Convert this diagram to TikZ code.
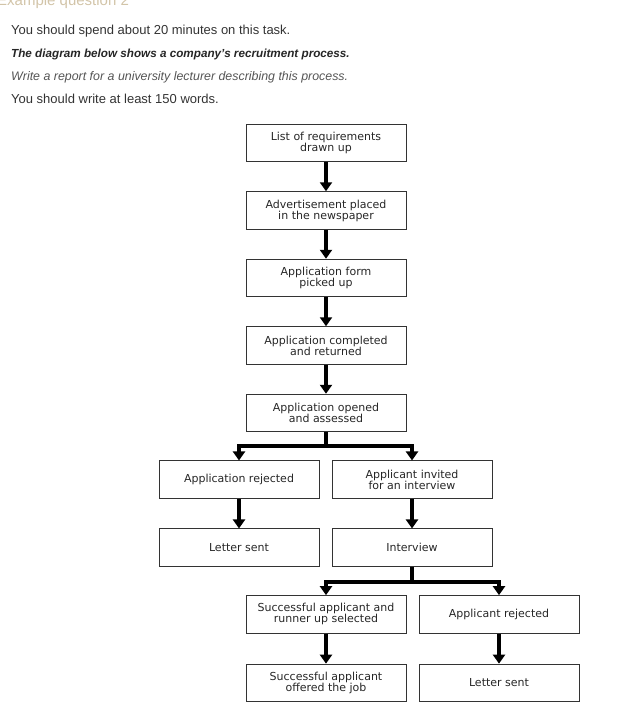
\documentclass[tikz,border=0pt]{standalone}
\usepackage{fontspec}
\setmainfont{Liberation Sans}
\newfontfamily\boxfont{DejaVu Sans}
\usetikzlibrary{arrows.meta,positioning}

\definecolor{titletan}{HTML}{D2C4A8}
\definecolor{headgray}{HTML}{333333}
\definecolor{notegray}{HTML}{555555}

\begin{document}
\begin{tikzpicture}[x=1pt,y=-1pt,node distance = 29pt]

\tikzstyle{stage}=[draw=black!80,line width=0.9pt,minimum width=160pt,minimum height=37.6pt,
  inner sep=0pt,align=center,font=\boxfont\fontsize{11}{11}\selectfont,text=black!85]
\tikzstyle{flow}=[line width=3.6pt,-{Triangle[length=9pt,width=12pt]}]
\tikzstyle{head}=[anchor=base west,inner sep=0pt,font=\fontsize{13}{15}\selectfont]

\useasboundingbox (0,0) rectangle (640,709);

% header texts
\node [head,text=titletan,font=\fontsize{15}{17}\selectfont] (title) at (-3,6) {Example question 2};
\node [head,text=headgray] (spend) at (11,35) {You should spend about 20 minutes on this task.};
\node [head,text=black!85,font=\fontsize{11.7}{14}\selectfont\bfseries\itshape] (task) at (11,57) {The diagram below shows a company's recruitment process.};
\node [head,text=notegray,font=\fontsize{12.4}{14}\selectfont\itshape] (write) at (11,80) {Write a report for a university lecturer describing this process.};
\node [head,text=headgray] (words) at (11,103) {You should write at least 150 words.};

% main column
\node [stage] (list) at (326,143) {List of requirements\\drawn up};
\node [stage] (advert) [below=of list] {Advertisement placed\\in the newspaper};
\node [stage] (form) [below=of advert] {Application form\\picked up};
\node [stage] (done) [below=of form] {Application completed\\and returned};
\node [stage] (opened) [below=of done] {Application opened\\and assessed};

% first branch
\node [stage] (rejected) [below=28.2pt of opened,xshift=-87pt] {Application rejected};
\node [stage] (invited) [below=28.2pt of opened,xshift=86pt] {Applicant invited\\for an interview};
\node [stage] (letterA) [below=29.5pt of rejected] {Letter sent};
\node [stage] (interview) [below=29.5pt of invited] {Interview};

% second branch
\node [stage] (selected) [below=28.2pt of interview,xshift=-86pt] {Successful applicant and\\runner up selected};
\node [stage] (applrej) [below=28.2pt of interview,xshift=87pt] {Applicant rejected};
\node [stage] (offered) [below=30pt of selected] {Successful applicant\\offered the job};
\node [stage] (letterB) [below=30pt of applrej] {Letter sent};

\draw [flow] (list) -- (advert);
\draw [flow] (advert) -- (form);
\draw [flow] (form) -- (done);
\draw [flow] (done) -- (opened);
\draw [flow] (opened.south) -- ++(0,14) -| (rejected.north);
\draw [flow] (opened.south) -- ++(0,14) -| (invited.north);
\draw [flow] (rejected) -- (letterA);
\draw [flow] (invited) -- (interview);
\draw [flow] (interview.south) -- ++(0,15) -| (selected.north);
\draw [flow] (interview.south) -- ++(0,15) -| (applrej.north);
\draw [flow] (selected) -- (offered);
\draw [flow] (applrej) -- (letterB);

\end{tikzpicture}
\end{document}
